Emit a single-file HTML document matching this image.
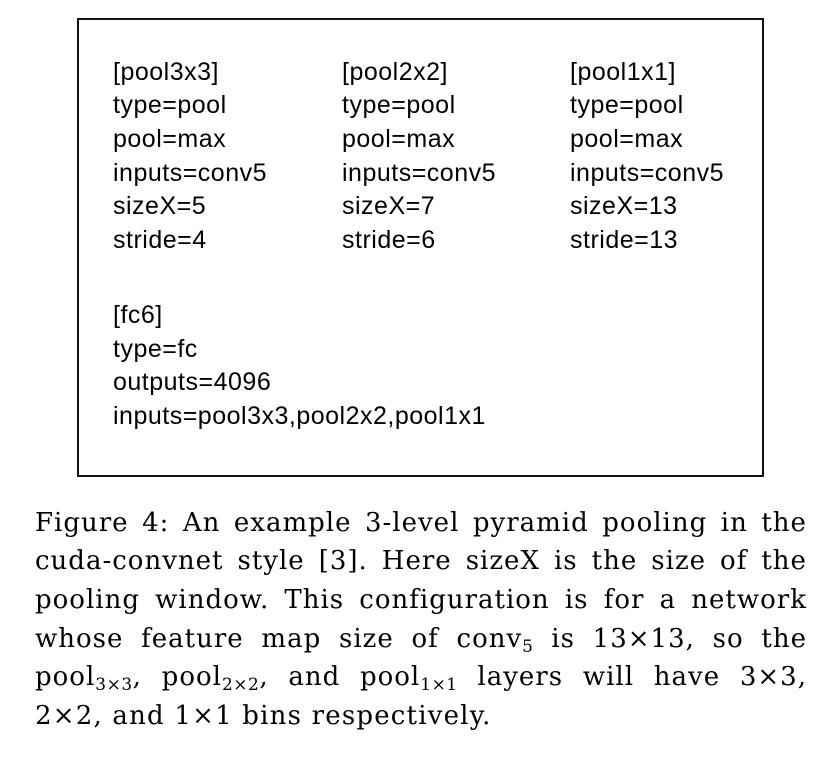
<!DOCTYPE html>
<html>
<head>
<meta charset="utf-8">
<style>
html,body{margin:0;padding:0;background:#fff;}
body{width:839px;height:761px;position:relative;overflow:hidden;}
.box{position:absolute;left:77px;top:18px;width:687px;height:459px;box-sizing:border-box;border:2px solid #111;}
.col{position:absolute;font-family:"Liberation Sans",Arial,sans-serif;font-size:25px;line-height:33.6px;letter-spacing:0.5px;color:#000;white-space:nowrap;}
.cap{position:absolute;left:35px;width:772px;height:38.6px;font-family:"DejaVu Serif","Liberation Serif",serif;font-size:26px;line-height:38.6px;letter-spacing:1px;color:#000;}
.j{display:flex;justify-content:space-between;align-items:baseline;}
.j span{white-space:nowrap;}
.s{position:relative;top:5px;font-size:17px;line-height:0;letter-spacing:0.5px;}
</style>
</head>
<body>
<div class="box"></div>

<div class="col" style="left:113px;top:55.9px;">[pool3x3]<br>type=pool<br>pool=max<br>inputs=conv5<br>sizeX=5<br>stride=4</div>
<div class="col" style="left:342px;top:55.9px;">[pool2x2]<br>type=pool<br>pool=max<br>inputs=conv5<br>sizeX=7<br>stride=6</div>
<div class="col" style="left:570px;top:55.9px;">[pool1x1]<br>type=pool<br>pool=max<br>inputs=conv5<br>sizeX=13<br>stride=13</div>
<div class="col" style="left:113px;top:299px;">[fc6]<br>type=fc<br>outputs=4096<br>inputs=pool3x3,pool2x2,pool1x1</div>

<div class="cap j" style="top:503.7px;"><span>Figure</span><span>4:</span><span>An</span><span>example</span><span>3-level</span><span>pyramid</span><span>pooling</span><span>in</span><span>the</span></div>
<div class="cap j" style="top:542.3px;"><span>cuda-convnet</span><span>style</span><span>[3].</span><span>Here</span><span>sizeX</span><span>is</span><span>the</span><span>size</span><span>of</span><span>the</span></div>
<div class="cap j" style="top:580.9px;"><span>pooling</span><span>window.</span><span>This</span><span>configuration</span><span>is</span><span>for</span><span>a</span><span>network</span></div>
<div class="cap j" style="top:619.5px;"><span>whose</span><span>feature</span><span>map</span><span>size</span><span>of</span><span>conv<span class="s">5</span></span><span>is</span><span>13×13,</span><span>so</span><span>the</span></div>
<div class="cap j" style="top:658.1px;"><span>pool<span class="s">3×3</span>,</span><span>pool<span class="s">2×2</span>,</span><span>and</span><span>pool<span class="s">1×1</span></span><span>layers</span><span>will</span><span>have</span><span>3×3,</span></div>
<div class="cap" style="top:696.7px;white-space:nowrap;letter-spacing:1.2px;">2×2, and 1×1 bins respectively.</div>
</body>
</html>
